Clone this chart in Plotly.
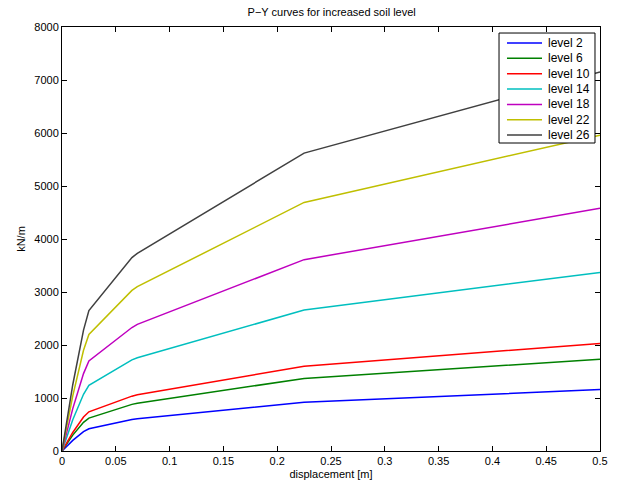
import plotly.graph_objects as go

displacement = [0, 0.01, 0.02, 0.025, 0.065, 0.07, 0.225, 0.5]
level_names = ["level 2", "level 6", "level 10", "level 14", "level 18", "level 22", "level 26"]
level_2 = [0, 200, 365, 420, 595, 610, 920, 1160]
level_6 = [0, 300, 540, 620, 880, 900, 1370, 1730]
level_10 = [0, 350, 640, 740, 1035, 1060, 1600, 2030]
level_14 = [0, 590, 1070, 1240, 1720, 1760, 2660, 3370]
level_18 = [0, 800, 1460, 1700, 2330, 2390, 3610, 4580]
level_22 = [0, 1040, 1900, 2200, 3030, 3100, 4690, 5960]
level_26 = [0, 1250, 2280, 2650, 3650, 3730, 5620, 7150]
series = [level_2, level_6, level_10, level_14, level_18, level_22, level_26]
colors = ["rgb(0,0,255)", "rgb(0,128,0)", "rgb(255,0,0)", "rgb(0,191,191)",
          "rgb(191,0,191)", "rgb(191,191,0)", "rgb(64,64,64)"]

x_ticks = [0, 0.05, 0.1, 0.15, 0.2, 0.25, 0.3, 0.35, 0.4, 0.45, 0.5]
x_tick_text = ["0", "0.05", "0.1", "0.15", "0.2", "0.25", "0.3", "0.35", "0.4", "0.45", "0.5"]
y_ticks = [0, 1000, 2000, 3000, 4000, 5000, 6000, 7000, 8000]

fig = go.Figure()
for name, vals, c in zip(level_names, series, colors):
    fig.add_trace(go.Scatter(x=displacement, y=vals, mode="lines", name=name,
                             line=dict(color=c, width=1.5), showlegend=False))

# Compact MATLAB-style legend box (positions in axis-domain fractions)
box_x0, box_x1, box_y0, box_y1 = 0.8123, 0.9907, 0.7264, 0.9858
fig.add_shape(type="rect", xref="x domain", yref="y domain",
              x0=box_x0, x1=box_x1, y0=box_y0, y1=box_y1,
              line=dict(color="black", width=1), fillcolor="white", layer="above")
top_px, step_px = 43.0, 15.35
for i, (name, c) in enumerate(zip(level_names, colors)):
    yc = (451 - (top_px + i * step_px)) / 424
    fig.add_shape(type="line", xref="x domain", yref="y domain",
                  x0=0.8271, x1=0.8922, y0=yc, y1=yc,
                  line=dict(color=c, width=1.5), layer="above")
    fig.add_annotation(xref="x domain", yref="y domain", x=0.8996, y=yc,
                       text=name, showarrow=False, xanchor="left", yanchor="middle",
                       font=dict(size=12, color="black"))

axis_common = dict(showline=True, linecolor="black", linewidth=1, mirror="ticks",
                   ticks="inside", ticklen=5, tickcolor="black", showgrid=False,
                   zeroline=False, tickfont=dict(size=11, color="black"))
fig.update_xaxes(range=[0, 0.5], tickvals=x_ticks, ticktext=x_tick_text,
                 title=dict(text="displacement [m]", font=dict(size=11), standoff=4),
                 **axis_common)
fig.update_yaxes(range=[0, 8000], tickvals=y_ticks,
                 title=dict(text="kN/m", font=dict(size=11), standoff=6),
                 **axis_common)
fig.update_layout(
    width=620, height=490,
    margin=dict(l=62, r=20, t=27, b=39),
    paper_bgcolor="white", plot_bgcolor="white",
    font=dict(family="Liberation Sans, Arial, sans-serif", color="black", size=11),
    title=dict(text="P\u2212Y curves for increased soil level", x=0.535, xanchor="center",
               y=0.975, yanchor="middle", font=dict(size=11)),
    showlegend=False,
)
fig.write_html("out.html")
